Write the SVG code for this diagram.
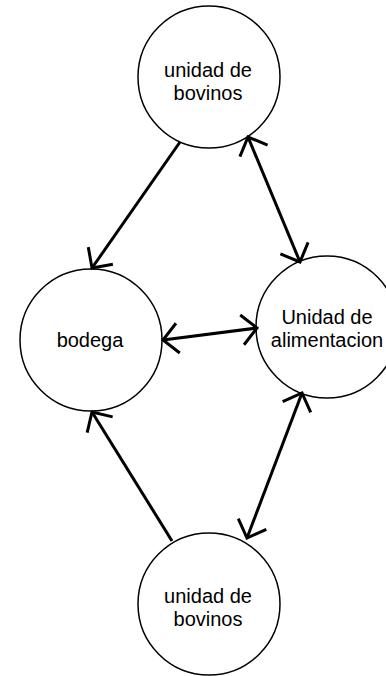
<svg xmlns="http://www.w3.org/2000/svg" width="386" height="676" viewBox="0 0 386 676">
<style>
.node circle{fill:#fff;stroke:#000;stroke-width:1.5}
.node text{font-family:"Liberation Sans",Arial,sans-serif;font-size:20px;fill:#000;text-anchor:middle}
.conn line{stroke:#000;stroke-width:3;fill:none}
</style>
<defs>
<marker id="ah" viewBox="-20 -20 24 40" markerWidth="24" markerHeight="40" refX="0" refY="0" orient="auto-start-reverse" markerUnits="userSpaceOnUse">
<path d="M-15,-15 L0,0 L-15,15" fill="none" stroke="#000" stroke-width="3"/>
</marker>
</defs>
<rect width="386" height="676" fill="#fff"/>
<g id="n-bovinos-top" class="node">
<circle cx="209" cy="77" r="71"/>
<text x="208" y="77">unidad de</text>
<text x="208" y="100">bovinos</text>
</g>
<g id="n-bodega" class="node">
<circle cx="91" cy="340" r="71"/>
<text x="90" y="347">bodega</text>
</g>
<g id="n-alimentacion" class="node">
<circle cx="327" cy="327" r="71"/>
<text x="327" y="324">Unidad de</text>
<text x="327" y="347">alimentacion</text>
</g>
<g id="n-bovinos-bottom" class="node">
<circle cx="209" cy="604" r="71"/>
<text x="208" y="603">unidad de</text>
<text x="208" y="626">bovinos</text>
</g>
<g id="connectors" class="conn">
<line x1="180" y1="142" x2="92" y2="268" marker-end="url(#ah)"/>
<line x1="248" y1="137" x2="300" y2="262" marker-start="url(#ah)" marker-end="url(#ah)"/>
<line x1="163" y1="340" x2="257" y2="328" marker-start="url(#ah)" marker-end="url(#ah)"/>
<line x1="172" y1="541" x2="92" y2="412" marker-end="url(#ah)"/>
<line x1="247" y1="538" x2="302" y2="393" marker-start="url(#ah)" marker-end="url(#ah)"/>
</g>
</svg>
